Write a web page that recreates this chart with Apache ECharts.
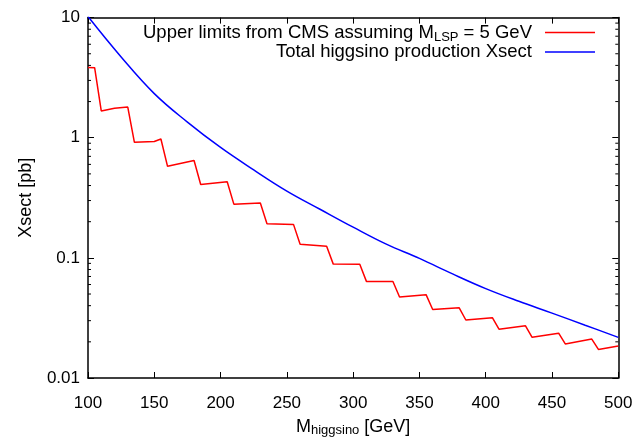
<!DOCTYPE html>
<html>
<head>
<meta charset="utf-8">
<script src="https://cdn.jsdelivr.net/npm/echarts@6/dist/echarts.min.js"></script>
<style>
html,body{margin:0;padding:0;background:#fff;}
#chart{width:644px;height:442px;}
</style>
</head>
<body>
<div id="chart"></div>
<script>
// ---- data ----
const limitMass = [100,105,110,120,130,135,150,155,160,180,185,205,210,230,235,255,260,280,285,305,310,330,335,355,360,380,385,405,410,430,435,455,460,480,485,500];
const limitXsect = [3.85,3.83,1.67,1.76,1.80,0.916,0.93,0.976,0.578,0.647,0.408,0.43,0.28,0.286,0.192,0.19,0.130,0.125,0.0887,0.0884,0.0637,0.0635,0.0473,0.0494,0.0372,0.0384,0.0304,0.0318,0.0255,0.0272,0.0218,0.0236,0.0192,0.0211,0.0173,0.0185];
const totalMass = [100,125,150,175,200,225,250,275,300,325,350,375,400,425,450,475,500];
const totalXsect = [10.2,4.7,2.33,1.35,0.83,0.54,0.36,0.254,0.180,0.130,0.099,0.0735,0.0555,0.0435,0.0347,0.0275,0.0218];
const xTicks = [100,150,200,250,300,350,400,450,500];
const yTickLabels = {0.01:'0.01',0.1:'0.1',1:'1',10:'10'};
const seriesNames = ['limit','total'];

const minorVals = [];
[0.01,0.1,1].forEach(d => { for (let k = 2; k <= 9; k++) minorVals.push(+(d*k).toPrecision(3)); });

const FONT = '"Liberation Sans", Arial, sans-serif';
const chart = echarts.init(document.getElementById('chart'), null, {renderer:'canvas'});

const axisLine = {show:true, lineStyle:{color:'#000', width:1.5}};
const richLegend = {
  n:{fontFamily:FONT,fontSize:18.5,color:'#000',lineHeight:22,verticalAlign:'middle'},
  s:{fontFamily:FONT,fontSize:13,color:'#000',lineHeight:11,verticalAlign:'bottom'}
};
const richName = {
  n:{fontFamily:FONT,fontSize:18,color:'#000',lineHeight:19},
  s:{fontFamily:FONT,fontSize:13,color:'#000',lineHeight:11,verticalAlign:'bottom'}
};
const option = {
  animation:false,
  backgroundColor:'#fff',
  textStyle:{fontFamily:FONT},
  grid:{left:88, top:17.6, right:25.7, bottom:59.3, show:false},
  legend:{
    orient:'vertical', right:49, top:23, align:'right', padding:0,
    itemWidth:50, itemHeight:1.5, itemGap:-1, icon:'rect',
    textStyle:{fontFamily:FONT, fontSize:18.5, color:'#000', padding:[0,8,0,0], rich:richLegend},
    data:seriesNames,
    formatter:function(n){
      return n === 'limit'
        ? '{n|Upper limits from CMS assuming M}{s|LSP}{n| = 5 GeV}'
        : '{n|Total higgsino production Xsect}';
    }
  },
  xAxis:[{
    type:'value', min:100, max:500, interval:50, position:'bottom',
    axisLine:axisLine, splitLine:{show:false},
    axisTick:{show:true, inside:true, length:6, lineStyle:{color:'#000',width:1}},
    axisLabel:{fontFamily:FONT, fontSize:17, color:'#000', margin:17,
      formatter:v => xTicks.includes(v) ? String(v) : ''},
    name:'{n|M}{s|higgsino}{n| [GeV]}', nameLocation:'middle', nameGap:40,
    nameTextStyle:{fontFamily:FONT, fontSize:18, color:'#000', rich:richName}
  },{
    type:'value', min:100, max:500, interval:50, position:'top',
    axisLine:axisLine, splitLine:{show:false},
    axisTick:{show:true, inside:true, length:6, lineStyle:{color:'#000',width:1}},
    axisLabel:{show:false}
  }],
  yAxis:[{
    type:'log', logBase:10, min:0.01, max:10, position:'left',
    axisLine:axisLine, splitLine:{show:false}, minorTick:{show:false},
    axisTick:{show:true, inside:true, length:6, lineStyle:{color:'#000',width:1}},
    axisLabel:{fontFamily:FONT, fontSize:17, color:'#000', margin:8,
      formatter:v => { const k = +(+v).toPrecision(3); return yTickLabels[k] || ''; }},
    name:'Xsect [pb]', nameLocation:'middle', nameGap:53,
    nameTextStyle:{fontFamily:FONT, fontSize:18, color:'#000'}
  },{
    type:'log', logBase:10, min:0.01, max:10, position:'right',
    axisLine:axisLine, splitLine:{show:false}, minorTick:{show:false},
    axisTick:{show:true, inside:true, length:6, lineStyle:{color:'#000',width:1}},
    axisLabel:{show:false}
  }],
  series:[
    {
      name:'limit', type:'line', xAxisIndex:0, yAxisIndex:0,
      data:limitMass.map((m,i)=>[m, limitXsect[i]]),
      showSymbol:false, symbol:'none', smooth:false,
      lineStyle:{color:'#ff0000', width:1.5}, itemStyle:{color:'#ff0000'}, z:3
    },
    {
      name:'total', type:'line', xAxisIndex:0, yAxisIndex:0,
      data:totalMass.map((m,i)=>[m, totalXsect[i]]),
      showSymbol:false, symbol:'none', smooth:0.4,
      lineStyle:{color:'#0000ff', width:1.5}, itemStyle:{color:'#0000ff'}, z:3
    },
    {
      name:'minor', type:'custom', xAxisIndex:0, yAxisIndex:0, silent:true, clip:false,
      data:minorVals.map(v=>[100, v]),
      renderItem:function(params, api){
        const v = api.value(1);
        const l = api.coord([100, v]);
        const r = api.coord([500, v]);
        return {type:'group', children:[
          {type:'line', shape:{x1:l[0], y1:l[1], x2:l[0]+3, y2:l[1]}, style:{stroke:'#000', lineWidth:1}},
          {type:'line', shape:{x1:r[0], y1:r[1], x2:r[0]-3, y2:r[1]}, style:{stroke:'#000', lineWidth:1}}
        ]};
      }
    }
  ]
};
chart.setOption(option);
</script>
</body>
</html>
